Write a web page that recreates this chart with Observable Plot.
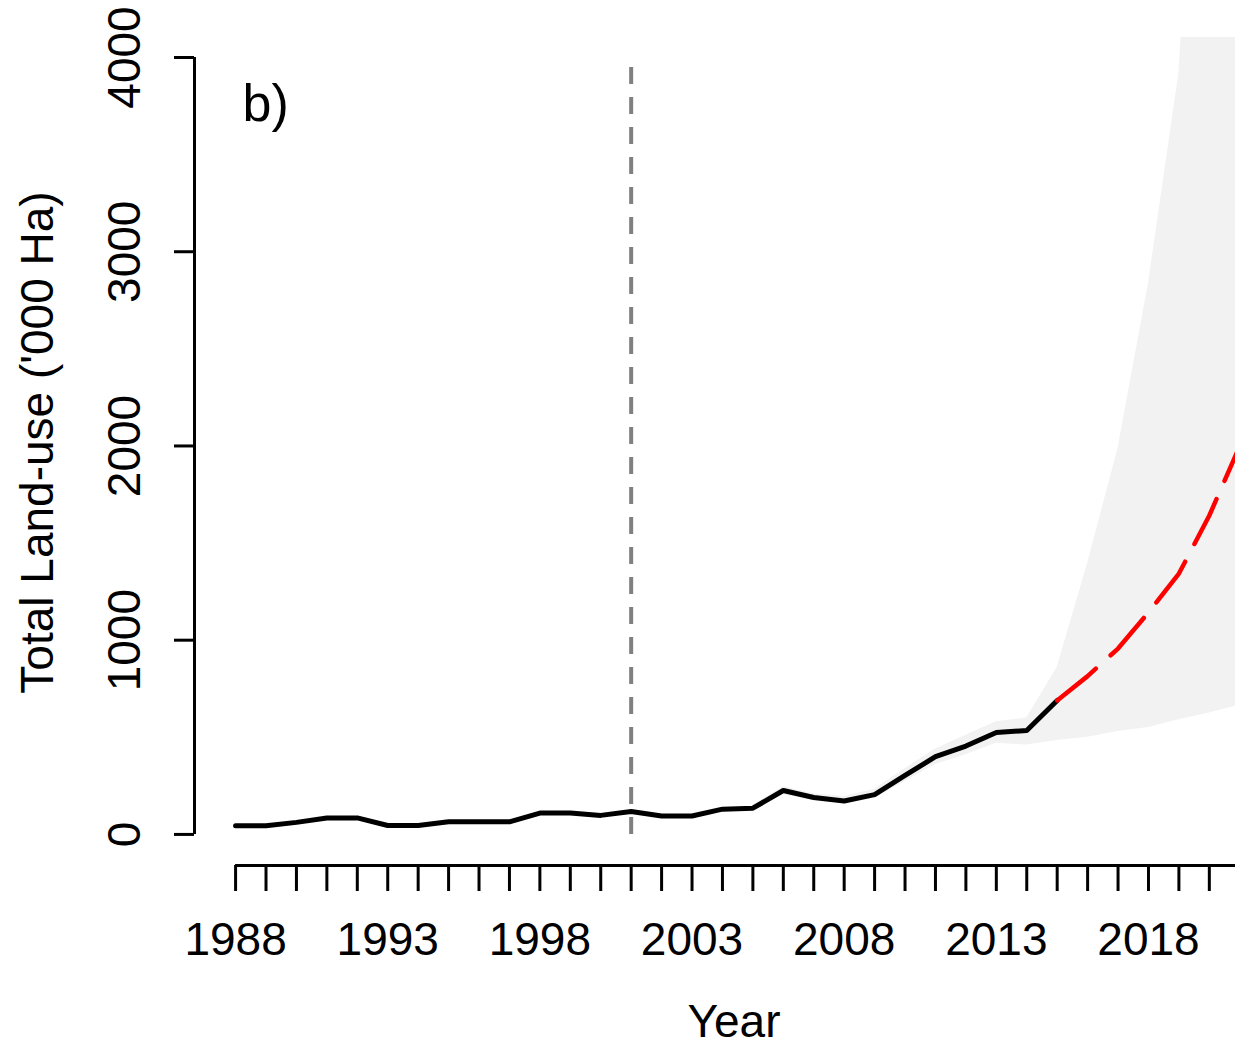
<!DOCTYPE html>
<html>
<head>
<meta charset="utf-8">
<script src="https://cdn.jsdelivr.net/npm/d3@7"></script>
<script src="https://cdn.jsdelivr.net/npm/@observablehq/plot@0.6"></script>
<style>
  html, body { margin: 0; padding: 0; background: #ffffff; }
  #chart svg { display: block; }
</style>
</head>
<body>
<div id="chart"></div>
<script>
// ---- observed series ('000 Ha) ----
const obsYears = [1988,1989,1990,1991,1992,1993,1994,1995,1996,1997,1998,1999,2000,2001,2002,2003,2004,2005,2006,2007,2008,2009,2010,2011,2012,2013,2014,2015];
const obsValues = [45,45,62,85,85,46,46,65,65,65,110,110,98,118,95,95,130,135,226,190,172,205,304,400,455,525,535,690];

// ---- forecast (mean) ----
const fcYears = [2015,2016,2017,2018,2019,2020,2021];
const fcValues = [690,815,957,1143,1343,1642,2000];

// ---- uncertainty band ----
const bandYears = [2005,2006,2007,2008,2009,2010,2011,2012,2013,2014,2015,2016,2017,2018,2019,2020,2021];
const bandLower = [125,205,172,158,185,272,360,410,470,460,484,500,530,551,590,625,665];
const bandUpper = [150,245,210,195,232,338,440,510,580,600,860,1395,1987,2837,3918,6500,10000];

// ---- reference year (vertical dashed line) ----
const breakYear = [2001];

// ---- ticks / labels ----
const xMinorTicks = [1988,1989,1990,1991,1992,1993,1994,1995,1996,1997,1998,1999,2000,2001,2002,2003,2004,2005,2006,2007,2008,2009,2010,2011,2012,2013,2014,2015,2016,2017,2018,2019,2020,2021];
const xLabelTicks = [1988,1993,1998,2003,2008,2013,2018];
const yTicks = [0,1000,2000,3000,4000];
const xTitle = "Year";
const yTitle = "Total Land-use ('000 Ha)";
const panelLabel = "b)";

// ---- scale domains (R-style 4% padded plot region, cropped) ----
const xDomain = [1986.65, 2020.86];
const yDomain = [-160, 4103];

const obs = obsYears.map((d, i) => ({year: d, value: obsValues[i]}));
const fc = fcYears.map((d, i) => ({year: d, value: fcValues[i]}));
const band = bandYears.map((d, i) => ({year: d, lo: bandLower[i], hi: bandUpper[i]}));

const font = "'Liberation Sans', Arial, Helvetica, sans-serif";

const chart = Plot.plot({
  width: 1235,
  height: 1048,
  marginLeft: 194,
  marginRight: 0,
  marginTop: 37,
  marginBottom: 183,
  style: {fontFamily: font, fontSize: "46px", background: "#ffffff", color: "#000000"},
  x: {domain: xDomain, axis: null},
  y: {domain: yDomain, axis: null},
  marks: [
    Plot.areaY(band, {x: "year", y1: "lo", y2: "hi", fill: "#f2f2f2", clip: true}),
    Plot.ruleX(breakYear, {y1: yTicks[0], y2: yTicks[yTicks.length - 1], stroke: "#808080", strokeWidth: 4, strokeDasharray: "17,13"}),
    Plot.line(obs, {x: "year", y: "value", stroke: "#000000", strokeWidth: 5, clip: true}),
    Plot.line(fc, {x: "year", y: "value", stroke: "#ff0000", strokeWidth: 4.5, strokeDasharray: "50,20", clip: true}),
    // y axis
    Plot.ruleX([xDomain[0]], {y1: yTicks[0], y2: yTicks[yTicks.length - 1], stroke: "#000000", strokeWidth: 3}),
    Plot.axisY(yTicks, {anchor: "left", tickSize: 20, strokeWidth: 3, tickFormat: () => "", label: null}),
    Plot.axisY(yTicks, {anchor: "left", tickSize: 0, tickPadding: 69, rotate: -90, textAnchor: "middle", tickFormat: d => String(d), label: null}),
    // x axis
    Plot.ruleY([yDomain[0]], {x1: xMinorTicks[0], x2: xMinorTicks[xMinorTicks.length - 1], stroke: "#000000", strokeWidth: 3}),
    Plot.axisX(xMinorTicks, {anchor: "bottom", tickSize: 26, strokeWidth: 3, tickFormat: () => "", label: null}),
    Plot.axisX(xLabelTicks, {anchor: "bottom", tickSize: 0, tickPadding: 57, tickFormat: d => String(d), label: null}),
    // titles
    Plot.text([xTitle], {frameAnchor: "bottom", dx: 19, dy: 139, lineAnchor: "top", text: d => d}),
    Plot.text([yTitle], {frameAnchor: "left", dx: -156, dy: -9, rotate: -90, lineAnchor: "middle", textAnchor: "middle", text: d => d}),
    Plot.text([panelLabel], {frameAnchor: "top-left", dx: 48, dy: 47, lineAnchor: "top", textAnchor: "start", fontSize: 52, text: d => d})
  ]
});

document.getElementById("chart").appendChild(chart);
</script>
</body>
</html>
